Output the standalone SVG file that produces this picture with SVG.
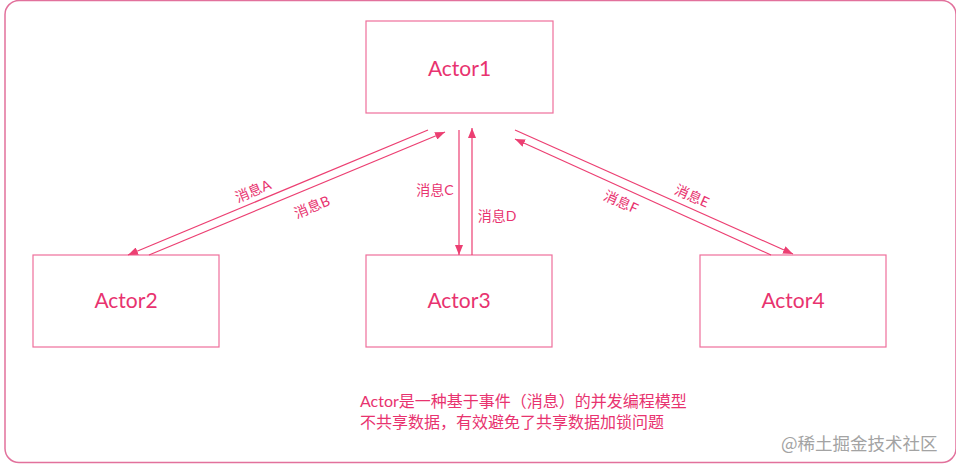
<svg xmlns="http://www.w3.org/2000/svg" width="956" height="469" viewBox="0 0 956 469">
<style>
.frame{fill:none;stroke:#e2719c;stroke-width:1.5}
.box{fill:#ffffff;stroke:#ef6f9b;stroke-width:1.2}
.title{font-family:"Lato","Noto Sans CJK SC",sans-serif;font-size:21px;fill:#e8336f;text-anchor:middle}
.conn{stroke:#ec3f72;stroke-width:1.2;fill:none;marker-end:url(#arr)}
.lbl{font-family:"Lato","Noto Sans CJK SC",sans-serif;font-size:14px;fill:#e8336f;text-anchor:middle}
.note{font-family:"Lato","Noto Sans CJK SC",sans-serif;font-size:16px;fill:#e8336f}
.wm{font-family:"Noto Sans CJK SC",sans-serif;font-size:17.5px;fill:#a3a3a3}
</style>
<defs>
<marker id="arr" markerUnits="userSpaceOnUse" markerWidth="10" markerHeight="8" refX="10" refY="4" orient="auto">
<path d="M0,0 L10,4 L0,8 z" fill="#ec3f72"/>
</marker>
</defs>
<rect x="0" y="0" width="956" height="469" fill="#ffffff"/>
<rect class="frame" x="5" y="0.5" width="951" height="462" rx="14" ry="14"/>
<g id="actor1">
<rect class="box" x="366" y="21" width="187" height="92"/>
<text class="title" x="459.5" y="76">Actor1</text>
</g>
<g id="actor2">
<rect class="box" x="33" y="255" width="186" height="92"/>
<text class="title" x="126" y="308">Actor2</text>
</g>
<g id="actor3">
<rect class="box" x="366" y="255" width="186" height="92"/>
<text class="title" x="459" y="308">Actor3</text>
</g>
<g id="actor4">
<rect class="box" x="700" y="255" width="186" height="92"/>
<text class="title" x="793" y="308">Actor4</text>
</g>
<g id="connectors">
<line class="conn" x1="428" y1="130" x2="128" y2="255"/>
<line class="conn" x1="149" y1="255" x2="445" y2="132"/>
<line class="conn" x1="459" y1="130" x2="459" y2="255"/>
<line class="conn" x1="472" y1="255" x2="472" y2="128"/>
<line class="conn" x1="515" y1="130" x2="793" y2="254"/>
<line class="conn" x1="771" y1="255" x2="515" y2="139"/>
<text class="lbl" transform="translate(253,191) rotate(-22.6)" y="5">消息A</text>
<text class="lbl" transform="translate(312,207) rotate(-22.6)" y="5">消息B</text>
<text class="lbl" x="435" y="195">消息C</text>
<text class="lbl" x="497" y="221">消息D</text>
<text class="lbl" transform="translate(692,196) rotate(24)" y="5">消息E</text>
<text class="lbl" transform="translate(621,202) rotate(24)" y="5">消息F</text>
</g>
<g id="note">
<text class="note" x="360" y="407">Actor是一种基于事件（消息）的并发编程模型</text>
<text class="note" x="360" y="428">不共享数据，有效避免了共享数据加锁问题</text>
</g>
<text class="wm" x="781" y="450">@稀土掘金技术社区</text>
</svg>
